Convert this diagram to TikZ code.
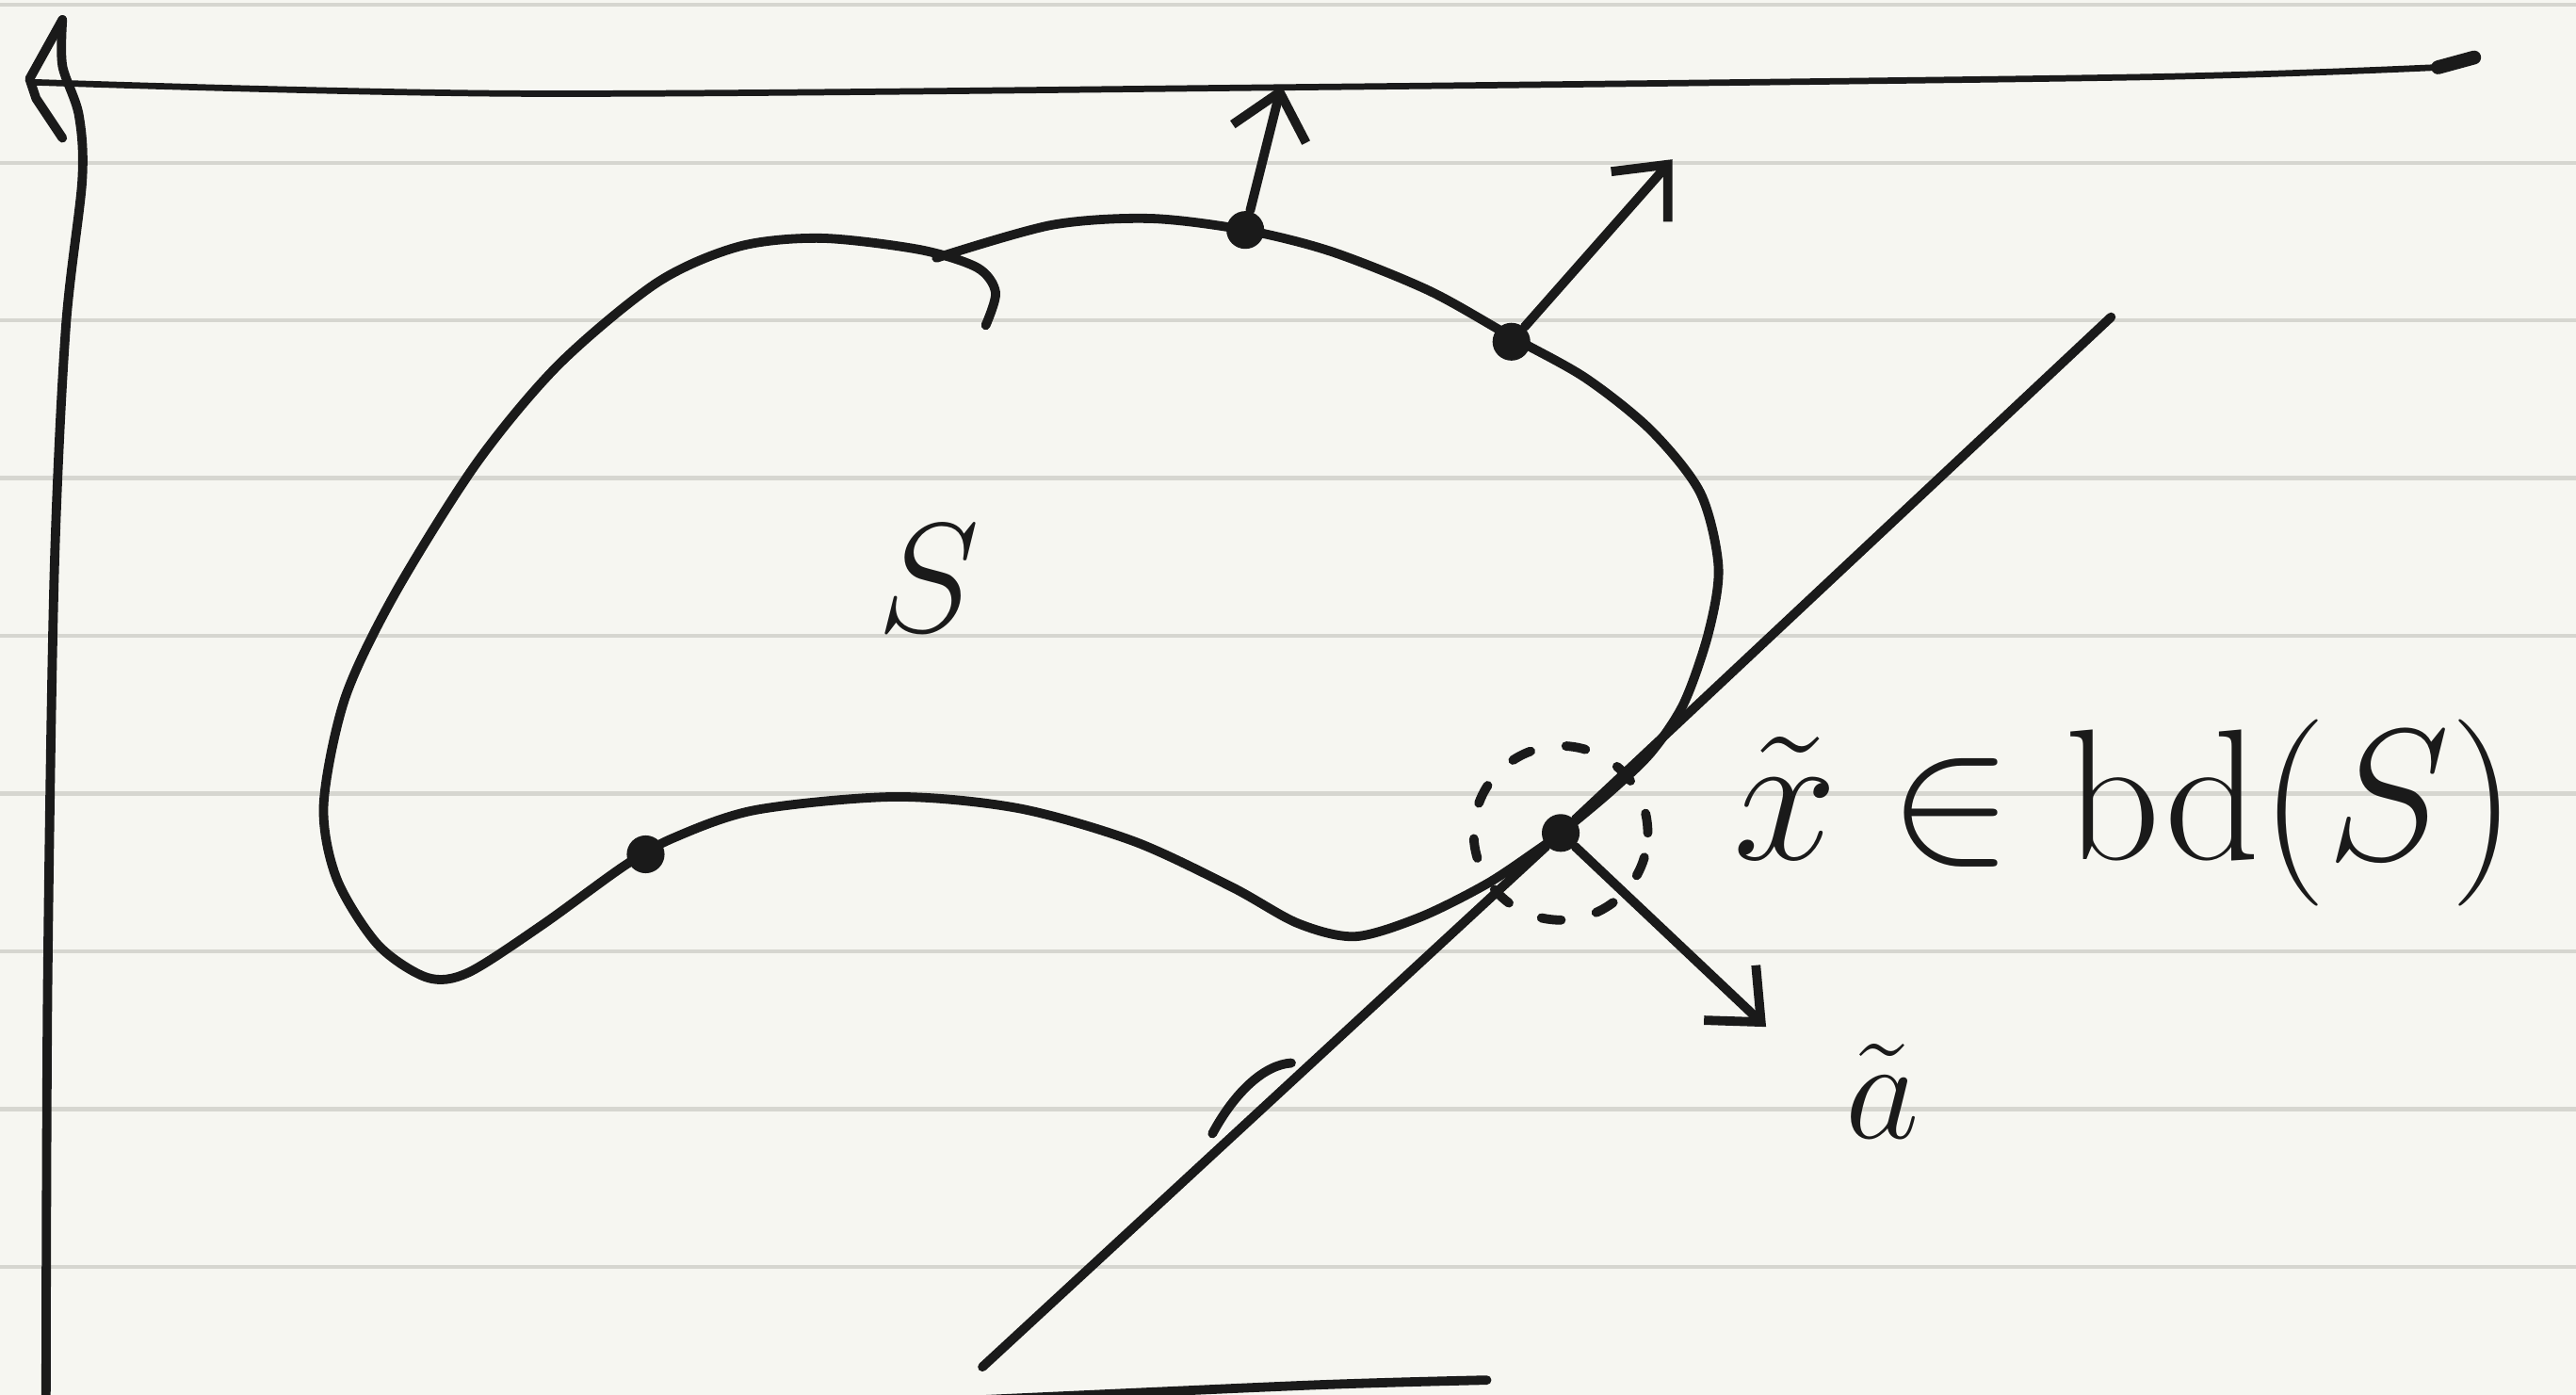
\documentclass[tikz,border=0pt]{standalone}
\usetikzlibrary{arrows.meta}
\definecolor{paper}{HTML}{F6F6F1}
\definecolor{rule}{HTML}{D6D6D0}
\definecolor{ink}{HTML}{1A1A1A}
\tikzset{>={Straight Barb[length=2.6mm,width=4.6mm]},
  x=0.1mm,y=-0.1mm,
  pen/.style={draw=ink,line width=1.6pt,line cap=round,line join=round},
  thinpen/.style={pen,line width=1.1pt},
  ruling/.style={draw=rule,line width=.7pt},
  dot/.style={circle,fill=ink,inner sep=0pt,minimum size=2.3mm},
  handtext/.style={text=ink,font=\Huge,inner sep=0pt},
  bigtext/.style={handtext,scale=1.3}}

\begin{document}
\begin{tikzpicture}
\fill[paper] (0,0) rectangle (1568,849);
\useasboundingbox (0,0) rectangle (1568,849);
\foreach \ry in {3,99,...,771} \draw[ruling] (0,\ry)--(1568,\ry);
% frame lines
\draw[pen] plot[smooth] coordinates {(28,849) (29,600) (33,350) (40,200) (50,110) (48,70) (38,40) (38,12)};
\draw[pen] (38,12)--(18,48)--(22,60)--(38,84);
\draw[thinpen] plot[smooth] coordinates {(18,50) (320,57) (800,53) (1300,47) (1484,41)};
\draw[pen,line width=2.4pt] (1484,41)--(1506,35);
\draw[pen] plot[smooth] coordinates {(598,852) (800,843) (905,840)};
% the set S
\draw[pen] plot[smooth] coordinates {(600,198) (606,178) (595,163) (560,152) (500,145) (450,150)
  (400,172) (340,222) (290,282) (240,362) (210,425) (197,490) (205,535) (230,575) (260,595)
  (285,592) (330,563) (380,527) (410,510) (460,493) (545,485) (620,492) (690,512) (750,540)
  (790,562) (825,570) (865,558) (905,538) (935,518) (950,507) (980,482) (1005,458) (1025,428)
  (1040,385) (1046,345) (1035,300) (1005,262) (965,230) (920,205) (870,177) (810,153)
  (758,140) (700,133) (640,137) (570,157)};
\node[handtext,scale=1.08] (lblS) at (565,352) {$S$};
% boundary points and normals
\node[dot] (pl) at (393,520) {};
\node[dot] (pt) at (758,140) {};
\node[dot] (pr) at (920,208) {};
\node[dot] (xt) at (950,507) {};
\coordinate (nt) at (780,52);
\coordinate (nr) at (1018,97);
\coordinate (na) at (1075,625);
\draw[pen,->] (pt)--(nt);
\draw[pen,->] (pr)--(nr);
\draw[pen,->] (xt)--(na);
% supporting line at x tilde
\coordinate (t0) at (598,832);
\coordinate (t1) at (1285,193);
\draw[pen] (t0)--(xt)--(t1);
\draw[pen] (738,690) .. controls (752,664) and (770,648) .. (786,647);
\draw[pen,dash pattern=on 1.2mm off 2.2mm] (xt) circle[radius=5.3mm];
\node[bigtext,anchor=west] (lblx) at (1054,495) {$\tilde{x}\in\mathrm{bd}(S)$};
\node[handtext] (lbla) at (1146,664) {$\tilde{a}$};
\end{tikzpicture}
\end{document}
